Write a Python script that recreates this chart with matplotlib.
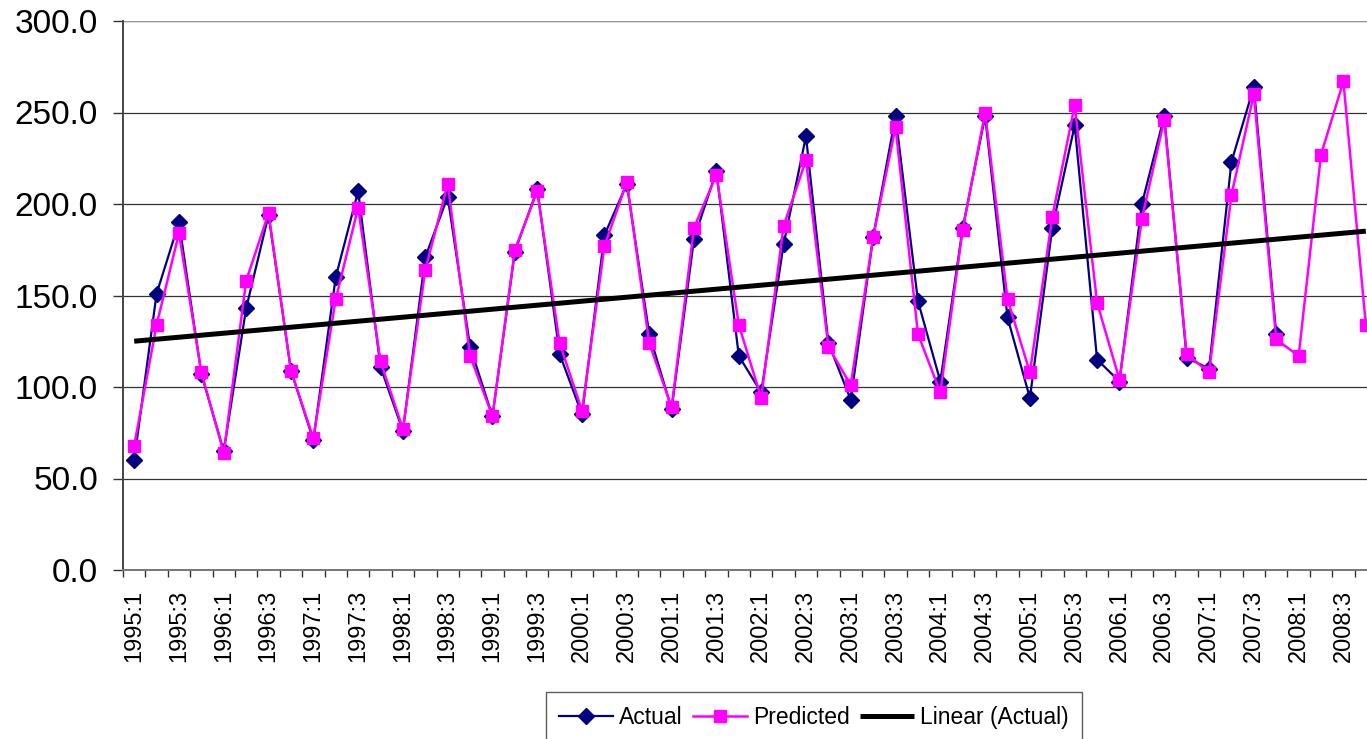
import numpy as np
import matplotlib
matplotlib.use("Agg")
import matplotlib.pyplot as plt
from matplotlib.ticker import FixedLocator, FuncFormatter

plt.rcParams['font.family'] = ['Liberation Sans', 'DejaVu Sans']

# Quarterly categories 1995:1 .. 2008:4
years = list(range(1995, 2009))
quarters = [f"{y}:{q}" for y in years for q in (1, 2, 3, 4)]
tick_labels = [q.replace("2006:", "2006.") for q in quarters]

actual = [60, 151, 190, 107,
          65, 143, 194, 109,
          71, 160, 207, 111,
          76, 171, 204, 122,
          84, 174, 208, 118,
          85, 183, 211, 129,
          88, 181, 218, 117,
          97, 178, 237, 124,
          93, 182, 248, 147,
          103, 187, 248, 138,
          94, 187, 243, 115,
          103, 200, 248, 116,
          110, 223, 264, 129]

predicted = [68, 134, 184, 108,
             64, 158, 195, 109,
             72, 148, 198, 114,
             77, 164, 211, 117,
             84, 175, 207, 124,
             87, 177, 212, 124,
             89, 187, 216, 134,
             94, 188, 224, 122,
             101, 182, 242, 129,
             97, 186, 250, 148,
             108, 193, 254, 146,
             104, 192, 246, 118,
             108, 205, 260, 126,
             117, 227, 267, 134]

x_all = np.arange(len(quarters))
x_act = np.arange(len(actual))

# Least-squares trend of the actual series, drawn across the whole axis
coef = np.polyfit(x_act, actual, 1)
trend = np.polyval(coef, x_all)

W, H = 1367, 739
fig = plt.figure(figsize=(W / 100, H / 100), dpi=100)
ax = fig.add_axes([123 / W, (H - 570) / H, 1254 / W, 549 / H])

ax.plot(x_act, actual, color='#000080', lw=1.6, marker='D', ms=8,
        mec='#000080', mfc='#000080', label='Actual', zorder=3)
ax.plot(x_all, predicted, color='#FF00FF', lw=1.8, marker='s', ms=9,
        mec='#FF00FF', mfc='#FF00FF', label='Predicted', zorder=4)
ax.plot(x_all, trend, color='black', lw=3.6, label='Linear (Actual)',
        zorder=5, solid_capstyle='butt')

ax.set_xlim(-0.5, len(quarters) - 0.5)
ax.set_ylim(0, 300)

# y axis
ax.set_yticks(np.arange(0, 301, 50))
ax.yaxis.set_major_formatter(FuncFormatter(lambda v, p: f"{v:.1f}"))
ax.tick_params(axis='y', which='major', length=7, width=1.0, color='#333333',
               labelsize=24, pad=11, direction='out')
ax.yaxis.grid(True, color='#333333', lw=0.9)
ax.set_axisbelow(True)

# x axis: labels at every other category, tick marks at category boundaries
ax.xaxis.set_major_locator(FixedLocator(x_all[::2]))
ax.set_xticklabels(tick_labels[::2], rotation=90, fontsize=17)
ax.xaxis.set_minor_locator(FixedLocator(np.arange(-0.5, len(quarters), 1)))
ax.tick_params(axis='x', which='major', length=0, pad=14)
ax.tick_params(axis='x', which='minor', length=5, width=1.0, color='#333333',
               direction='out')

for s in ('top', 'right'):
    ax.spines[s].set_visible(False)
ax.spines['left'].set_color('#444444')
ax.spines['left'].set_linewidth(1.4)
ax.spines['bottom'].set_color('#777777')
ax.spines['bottom'].set_linewidth(1.4)
ax.axhline(300, color='#999999', lw=1.6, zorder=1)

leg = fig.legend(loc='upper center', bbox_to_anchor=(814 / W, 1 - 692 / H),
                 ncol=3, fontsize=16.5, frameon=True, fancybox=False,
                 edgecolor='#333333', handlelength=2.35, handletextpad=0.26,
                 columnspacing=0.45, borderpad=0.6, borderaxespad=0)
leg.get_frame().set_linewidth(1.0)

fig.savefig('out.png', dpi=100)
